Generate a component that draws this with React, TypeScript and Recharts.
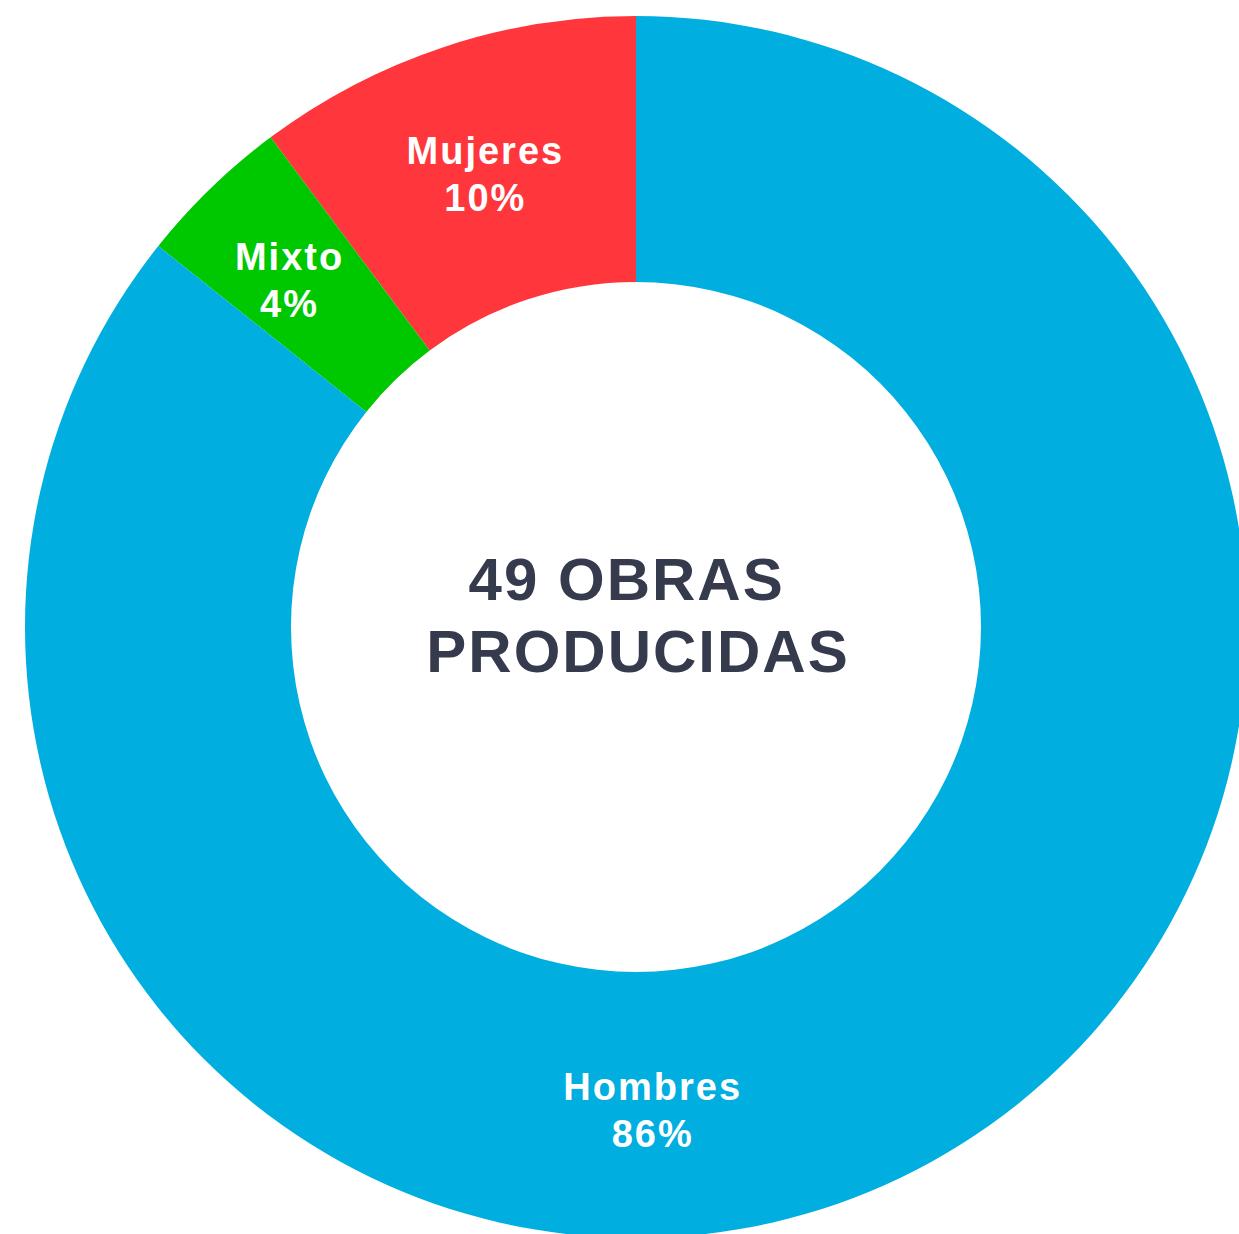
import React from 'react';
import { PieChart, Pie, Cell } from 'recharts';

const categories = ['Mujeres', 'Mixto', 'Hombres'];
const obras = [5, 2, 42];
const colors = ['#FF363B', '#00C800', '#00AEE0'];
const centerLines = ['49 OBRAS ', 'PRODUCIDAS'];

const data = categories.map((name, i) => ({ name, value: obras[i] }));

const RADIAN = Math.PI / 180;
const labelFont = '"Liberation Sans", Arial, sans-serif';

const renderLabel = (props: any) => {
  const { cx, cy, midAngle, innerRadius, outerRadius, percent, name } = props;
  // the big slice gets its label at the bottom of the ring
  const angle = name === 'Hombres' ? 272 : midAngle;
  const r = (innerRadius + outerRadius) / 2 + (name === 'Mixto' ? 20 : 0);
  const x = cx + r * Math.cos(-angle * RADIAN);
  const y = cy + r * Math.sin(-angle * RADIAN);
  const shift = name === 'Mujeres' ? -9 : name === 'Mixto' ? 1 : -5;
  return (
    <text
      x={x}
      y={y}
      fill="#fff"
      textAnchor="middle"
      fontFamily={labelFont}
      fontWeight="bold"
      fontSize={38}
      letterSpacing={2}
    >
      <tspan x={x} dy={shift}>{name}</tspan>
      <tspan x={x} dy={47}>{`${Math.round(percent * 100)}%`}</tspan>
    </text>
  );
};

const App: React.FC = () => {
  return (
    <div style={{ position: 'absolute', left: 0, top: 0 }}>
      <PieChart width={1239} height={1234} margin={{ top: 0, right: 0, bottom: 0, left: 0 }}>
        <Pie
          data={data}
          dataKey="value"
          nameKey="name"
          cx={636}
          cy={627}
          innerRadius={345}
          outerRadius={611}
          startAngle={90}
          endAngle={450}
          stroke="none"
          labelLine={false}
          label={renderLabel}
          isAnimationActive={false}
        >
          {data.map((d, i) => (
            <Cell key={d.name} fill={colors[i]} />
          ))}
        </Pie>
        <text
          x={636}
          y={600}
          textAnchor="middle"
          fill="#353A4D"
          fontFamily={labelFont}
          fontWeight="bold"
          fontSize={60}
          letterSpacing={2}
          style={{ whiteSpace: 'pre' }}
        >
          {centerLines[0]}
        </text>
        <text
          x={638}
          y={672}
          textAnchor="middle"
          fill="#353A4D"
          fontFamily={labelFont}
          fontWeight="bold"
          fontSize={60}
          letterSpacing={2}
        >
          {centerLines[1]}
        </text>
      </PieChart>
    </div>
  );
};

export default App;
